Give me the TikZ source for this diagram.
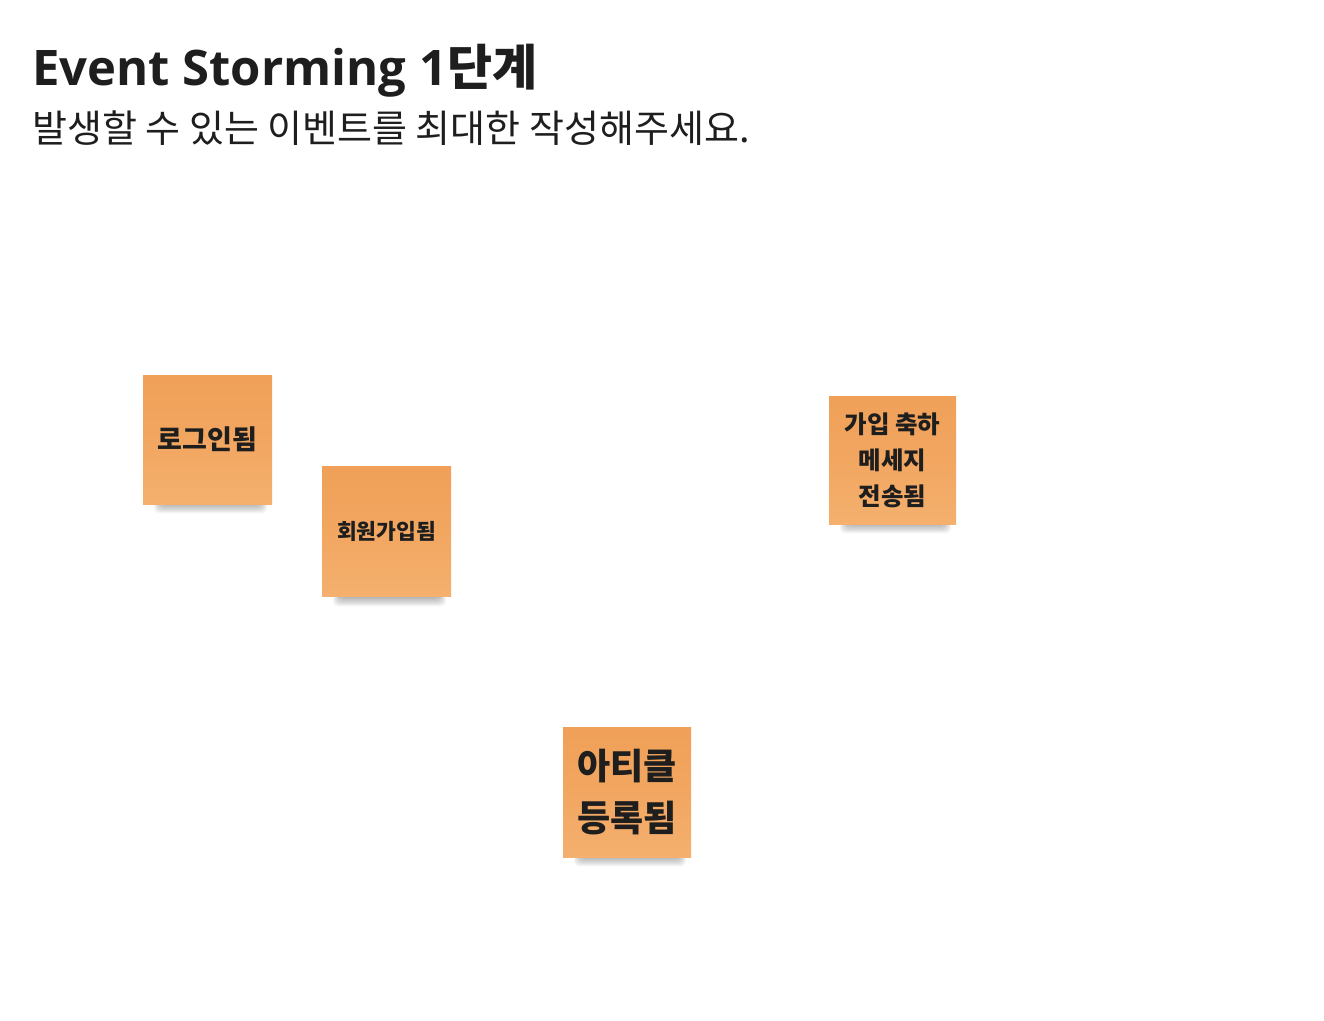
\documentclass[tikz,border=0pt]{standalone}
\usepackage{fontspec}
\setmainfont{Open Sans}
\newfontfamily\kr{Noto Sans CJK KR}
\newfontfamily\os{Open Sans}
\definecolor{notetop}{HTML}{F0A058}
\definecolor{notebot}{HTML}{F4B06E}
\definecolor{ink}{HTML}{1E1E1E}
\tikzset{
  stickynote/.style={draw=none, inner sep=0pt, top color=notetop, bottom color=notebot,
    middle color=notetop!60!notebot, align=center, text=ink},
}
\newcommand{\shadowunder}[3]{% x1 x2 ybottom
  \foreach \i in {0,...,7}{
    \fill[black,opacity=0.04,rounded corners=5pt] (#1+18-\i*1.0,#3-3) rectangle (#2-12+\i*1.0,#3+1+\i*1.2);
  }}
\begin{document}
\begin{tikzpicture}[x=1pt,y=-1pt]
\useasboundingbox (0,0) rectangle (1324,1020);
\fill[white] (0,0) rectangle (1324,1020);
% title
\node[anchor=base west, inner sep=0pt, text=ink] (title) at (32,85)
  {\fontsize{49}{56}\selectfont\os\bfseries Event Storming 1\kr\bfseries 단계};
\node[anchor=base west, inner sep=0pt, text=ink] (subtitle) at (32,142)
  {\fontsize{38}{42}\selectfont\kr 발생할 수 있는 이벤트를 최대한 작성해주세요.};
% shadows
\shadowunder{143}{272}{504}
\shadowunder{322}{451}{597}
\shadowunder{829}{956}{524}
\shadowunder{563}{691}{857}
% notes
\node[stickynote, minimum width=129pt, minimum height=129pt,
  font=\kr\bfseries\fontsize{27}{30}\selectfont] (login) at (207.5,439.5) {로그인됨};
\node[stickynote, minimum width=129pt, minimum height=130pt,
  font=\kr\bfseries\fontsize{21.5}{26}\selectfont] (signup) at (386.5,531.5) {회원가입됨};
\node[stickynote, minimum width=127pt, minimum height=128pt,
  font=\kr\bfseries\fontsize{24.5}{36}\selectfont] (welcome) at (892.5,460)
  {가입 축하\\메세지\\전송됨};
\node[stickynote, minimum width=128pt, minimum height=130pt,
  font=\kr\bfseries\fontsize{36}{52}\selectfont] (article) at (627,792)
  {아티클\\등록됨};
\end{tikzpicture}
\end{document}
